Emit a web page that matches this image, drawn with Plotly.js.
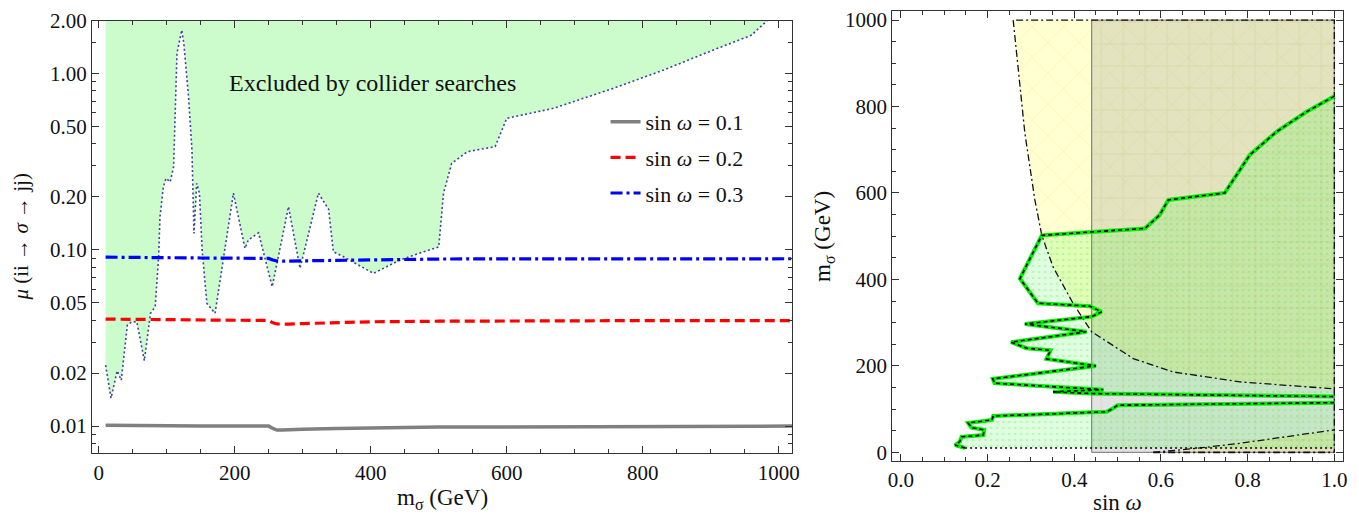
<!DOCTYPE html>
<html>
<head>
<meta charset="utf-8">
<script src="https://cdn.plot.ly/plotly-3.0.1.min.js"></script>
<style>html,body{margin:0;padding:0;background:#fff;}#chart{width:1359px;height:514px;}</style>
</head>
<body>
<div id="chart"></div>
<script>
// ---------- Left panel data ----------
const massGeV = [10, 50, 100, 150, 200, 250, 256, 262, 270, 280, 300, 350, 400, 500, 600, 800, 1020];
const muSin01 = [0.0101, 0.01005, 0.0100, 0.0100, 0.0100, 0.0100, 0.0097, 0.0095, 0.0095, 0.0095, 0.0096, 0.0097, 0.0098, 0.0099, 0.0099, 0.0100, 0.0100];
const muSin02 = [0.0405, 0.0403, 0.0401, 0.0400, 0.0399, 0.0398, 0.0386, 0.0380, 0.0379, 0.0379, 0.0382, 0.0387, 0.0391, 0.0394, 0.0396, 0.0397, 0.0397];
const muSin03 = [0.0910, 0.0905, 0.0903, 0.0900, 0.0898, 0.0895, 0.0876, 0.0866, 0.0864, 0.0865, 0.0870, 0.0877, 0.0883, 0.0888, 0.0890, 0.0891, 0.0891];
const legendNames = ["sin <i>ω</i> = 0.1", "sin <i>ω</i> = 0.2", "sin <i>ω</i> = 0.3"];

const limitMass = [10, 18, 27, 33, 42, 49, 56, 67, 76, 83, 88, 90, 95, 99, 105, 110, 115, 122, 125, 132, 137, 140, 144, 148, 152, 159, 171, 198, 215, 220, 235, 255, 279, 296, 323, 338, 345, 360, 404, 443, 478, 500, 507, 519, 542, 583, 600, 669, 757, 831, 904, 961, 965, 983];
const limitMu   = [0.0222, 0.0144, 0.0206, 0.0182, 0.0375, 0.0392, 0.039, 0.0235, 0.0437, 0.0476, 0.0915, 0.154, 0.229, 0.255, 0.243, 0.297, 1.31, 1.77, 1.49, 0.741, 0.369, 0.124, 0.239, 0.21, 0.10, 0.0497, 0.0437, 0.21, 0.102, 0.114, 0.125, 0.0618, 0.176, 0.0786, 0.21, 0.17, 0.0977, 0.0915, 0.0736, 0.0877, 0.0977, 0.104, 0.21, 0.31, 0.361, 0.386, 0.559, 0.637, 0.827, 1.051, 1.365, 1.66, 1.73, 2.0];
const muTop = 2.0;

const muTickVals = [0.01, 0.02, 0.05, 0.1, 0.2, 0.5, 1, 2];
const muTickText = ["0.01", "0.02", "0.05", "0.10", "0.20", "0.50", "1.00", "2.00"];
const muMinorVals = [0.007, 0.008, 0.009, 0.03, 0.04, 0.06, 0.07, 0.08, 0.09, 0.3, 0.4, 0.6, 0.7, 0.8, 0.9, 1.5];
const massTickVals = [0, 200, 400, 600, 800, 1000];

// ---------- Right panel data ----------
const yellowCurveSin  = [0.259, 0.271, 0.286, 0.309, 0.325, 0.351, 0.397, 0.44, 0.536, 0.628, 0.782, 1.0];
const yellowCurveMass = [1000, 890, 738, 584, 502, 429, 345, 279, 217, 186, 163, 147];
const lowerCurveSin  = [0.582, 0.68, 0.782, 0.9, 1.0];
const lowerCurveMass = [0, 9, 21, 37, 52];
const boxSin  = [0.44, 1.0];
const boxMass = [0, 1000];
const greenUpperSin  = [1.0, 0.936, 0.867, 0.805, 0.747, 0.617, 0.597, 0.563, 0.44, 0.325, 0.2745, 0.316, 0.436, 0.463, 0.44, 0.286, 0.428, 0.254, 0.29, 0.345, 0.336, 0.45, 0.212, 0.216, 0.467, 0.351, 0.44, 1.0];
const greenUpperMass = [824, 788, 742, 688, 600, 584, 549, 518, 510, 502, 402, 345, 338, 325, 314, 297, 279, 255, 241, 236, 216, 200, 170, 160, 145, 140, 136, 129];
const greenLowerSin  = [1.0, 0.5, 0.49, 0.475, 0.44, 0.213, 0.21, 0.155, 0.163, 0.192, 0.19, 0.14, 0.136, 0.125, 0.148, 1.0];
const greenLowerMass = [115, 109, 102, 94, 92.5, 84, 75, 68, 57, 52, 40, 36, 25, 17, 10, 10];
const sinTickVals = [0, 0.2, 0.4, 0.6, 0.8, 1.0];
const sinTickText = ["0.0", "0.2", "0.4", "0.6", "0.8", "1.0"];
const mTickVals2 = [0, 200, 400, 600, 800, 1000];

// ---------- Build traces ----------
const FONT = "Liberation Serif, Times New Roman, serif";
const traces = [];
const dashDot = "7px,3px,2px,3px";

// exclusion region (left)
traces.push({
  x: limitMass.concat([limitMass[0]]),
  y: limitMu.concat([muTop]),
  xaxis: "x", yaxis: "y", mode: "lines", fill: "toself",
  fillcolor: "#ccfccc", line: {width: 0}, hoverinfo: "skip", showlegend: false
});
traces.push({
  x: limitMass, y: limitMu, xaxis: "x", yaxis: "y", mode: "lines",
  line: {color: "#3f3f9f", width: 1.6, dash: "2px,2.5px"}, showlegend: false
});
const seriesMu = [muSin01, muSin02, muSin03];
const seriesStyle = [
  {color: "#808080", width: 3.5, dash: "solid"},
  {color: "#ff0000", width: 3.2, dash: "10px,5px"},
  {color: "#0000ff", width: 3.2, dash: "12px,4px,3px,4px"}
];
seriesMu.forEach((mu, i) => {
  traces.push({
    x: massGeV, y: mu, xaxis: "x", yaxis: "y", mode: "lines",
    name: legendNames[i], legendgroup: "g" + i, line: seriesStyle[i]
  });
});

// right panel: yellow regions
const yellowPattern = {shape: "x", bgcolor: "rgba(255,255,0,0.18)", fgcolor: "rgba(225,225,110,0.5)", size: 22, solidity: 0.04, fillmode: "replace"};
traces.push({
  x: yellowCurveSin.concat([boxSin[1]]), y: yellowCurveMass.concat([boxMass[1]]),
  xaxis: "x2", yaxis: "y2", mode: "lines", fill: "toself",
  fillpattern: yellowPattern, line: {width: 0}, hoverinfo: "skip", showlegend: false
});
traces.push({
  x: lowerCurveSin.concat([boxSin[1]]), y: lowerCurveMass.concat([boxMass[0]]),
  xaxis: "x2", yaxis: "y2", mode: "lines", fill: "toself",
  fillpattern: yellowPattern, line: {width: 0}, hoverinfo: "skip", showlegend: false
});
// gray box
traces.push({
  x: [boxSin[0], boxSin[1], boxSin[1], boxSin[0], boxSin[0]],
  y: [boxMass[0], boxMass[0], boxMass[1], boxMass[1], boxMass[0]],
  xaxis: "x2", yaxis: "y2", mode: "lines", fill: "toself",
  fillpattern: {shape: "+", bgcolor: "rgba(128,128,128,0.22)", fgcolor: "rgba(170,170,90,0.4)", size: 22, solidity: 0.04, fillmode: "replace"},
  line: {width: 1.3, color: "#8a8a8a"}, hoverinfo: "skip", showlegend: false
});
// green regions
[[greenUpperSin, greenUpperMass], [greenLowerSin, greenLowerMass]].forEach(([sx, my]) => {
  traces.push({
    x: sx, y: my, xaxis: "x2", yaxis: "y2", mode: "lines", fill: "toself",
    fillpattern: {shape: ".", bgcolor: "rgba(0,255,0,0.12)", fgcolor: "rgba(60,225,60,0.25)", size: 6, solidity: 0.15, fillmode: "replace"},
    line: {width: 0}, hoverinfo: "skip", showlegend: false
  });
});
// dash-dot boundaries of yellow regions
const lastYellow = yellowCurveMass[yellowCurveMass.length - 1];
traces.push({
  x: yellowCurveSin.concat([boxSin[1], yellowCurveSin[0]]),
  y: yellowCurveMass.concat([boxMass[1], yellowCurveMass[0]]),
  xaxis: "x2", yaxis: "y2", mode: "lines",
  line: {color: "#111", width: 1.3, dash: dashDot}, hoverinfo: "skip", showlegend: false
});
traces.push({
  x: [boxSin[1], boxSin[1]], y: [lastYellow, boxMass[0]],
  xaxis: "x2", yaxis: "y2", mode: "lines",
  line: {color: "#111", width: 1.3, dash: dashDot}, hoverinfo: "skip", showlegend: false
});
traces.push({
  x: lowerCurveSin, y: lowerCurveMass,
  xaxis: "x2", yaxis: "y2", mode: "lines",
  line: {color: "#111", width: 1.3, dash: dashDot}, hoverinfo: "skip", showlegend: false
});
traces.push({
  x: [lowerCurveSin[0], boxSin[1]], y: [boxMass[0], boxMass[0]],
  xaxis: "x2", yaxis: "y2", mode: "lines",
  line: {color: "#111", width: 1.8, dash: dashDot}, hoverinfo: "skip", showlegend: false
});
// green boundary outlines (green solid + black dashes)
const loN = greenLowerSin.length;
const outlines = [
  [greenUpperSin, greenUpperMass],
  [greenLowerSin.slice(0, loN - 1), greenLowerMass.slice(0, loN - 1)]
];
outlines.forEach(([sx, my]) => {
  traces.push({x: sx, y: my, xaxis: "x2", yaxis: "y2", mode: "lines",
    line: {color: "#00ee00", width: 4}, hoverinfo: "skip", showlegend: false});
  traces.push({x: sx, y: my, xaxis: "x2", yaxis: "y2", mode: "lines",
    line: {color: "#000", width: 1.6, dash: "4px,3px"}, hoverinfo: "skip", showlegend: false});
});
// dotted bottom edge of lower green region
traces.push({
  x: greenLowerSin.slice(loN - 2), y: greenLowerMass.slice(loN - 2),
  xaxis: "x2", yaxis: "y2", mode: "lines",
  line: {color: "#000", width: 1.5, dash: "2px,3px"}, hoverinfo: "skip", showlegend: false
});

// ---------- Layout ----------
const axisCommon = {
  showline: true, linecolor: "#333", linewidth: 1, mirror: "ticks",
  ticks: "inside", ticklen: 7, tickwidth: 1, tickcolor: "#333",
  showgrid: false, zeroline: false,
  tickfont: {family: FONT, size: 21, color: "#111"}
};
const titleFont = {family: FONT, size: 23, color: "#111"};
const layout = {
  width: 1359, height: 514,
  margin: {l: 92, r: 16, t: 11, b: 53},
  paper_bgcolor: "#fff", plot_bgcolor: "#fff",
  font: {family: FONT, size: 21, color: "#111"},
  showlegend: true,
  legend: {
    x: 0.4105, y: 0.80, xanchor: "left", yanchor: "top",
    bgcolor: "rgba(0,0,0,0)", font: {family: FONT, size: 22, color: "#111"},
    traceorder: "grouped", tracegroupgap: 4
  },
  xaxis: Object.assign({}, axisCommon, {
    domain: [0, 0.5598], anchor: "y", range: [-10, 1020],
    tickvals: massTickVals, minor: {dtick: 50, tick0: 0, ticks: "inside", ticklen: 4, tickcolor: "#333"}
  }),
  yaxis: Object.assign({}, axisCommon, {
    domain: [0.0171, 0.9784], anchor: "x", type: "log",
    range: [Math.log10(0.00701), Math.log10(2)],
    tickvals: muTickVals, ticktext: muTickText, tickmode: "array",
    minor: {tickmode: "array", tickvals: muMinorVals, ticks: "inside", ticklen: 4, tickcolor: "#333"}
  }),
  xaxis2: Object.assign({}, axisCommon, {
    domain: [0.6397, 1], anchor: "y2", range: [-0.02, 1.02],
    tickvals: sinTickVals, ticktext: sinTickText, tickmode: "array",
    minor: {dtick: 0.05, tick0: 0, ticks: "inside", ticklen: 4, tickcolor: "#333"}
  }),
  yaxis2: Object.assign({}, axisCommon, {
    domain: [0, 1], anchor: "x2", range: [-20, 1021],
    tickvals: mTickVals2, tickmode: "array",
    minor: {dtick: 50, tick0: 0, ticks: "inside", ticklen: 4, tickcolor: "#333"}
  }),
  annotations: [
    {text: "Excluded by collider searches", xref: "x", yref: "y", x: 402, y: Math.log10(0.887),
     showarrow: false, font: {family: FONT, size: 24, color: "#111"}},
    {text: "m<sub>σ</sub> (GeV)", xref: "paper", yref: "paper", x: 0.2799, y: -0.085,
     xanchor: "center", yanchor: "middle", showarrow: false, font: titleFont},
    {text: "<i>μ</i> (ii → <i>σ</i> → jj)", xref: "paper", yref: "paper", x: -0.057, y: 0.498,
     xanchor: "center", yanchor: "middle", textangle: -90, showarrow: false,
     font: {family: FONT, size: 21, color: "#111"}},
    {text: "sin <i>ω</i>", xref: "paper", yref: "paper", x: 0.8198, y: -0.093,
     xanchor: "center", yanchor: "middle", showarrow: false, font: titleFont},
    {text: "m<sub>σ</sub> (GeV)", xref: "paper", yref: "paper", x: 0.5851, y: 0.5,
     xanchor: "center", yanchor: "middle", textangle: -90, showarrow: false, font: titleFont}
  ]
};

Plotly.newPlot("chart", traces, layout, {displayModeBar: false, staticPlot: true});
</script>
</body>
</html>
